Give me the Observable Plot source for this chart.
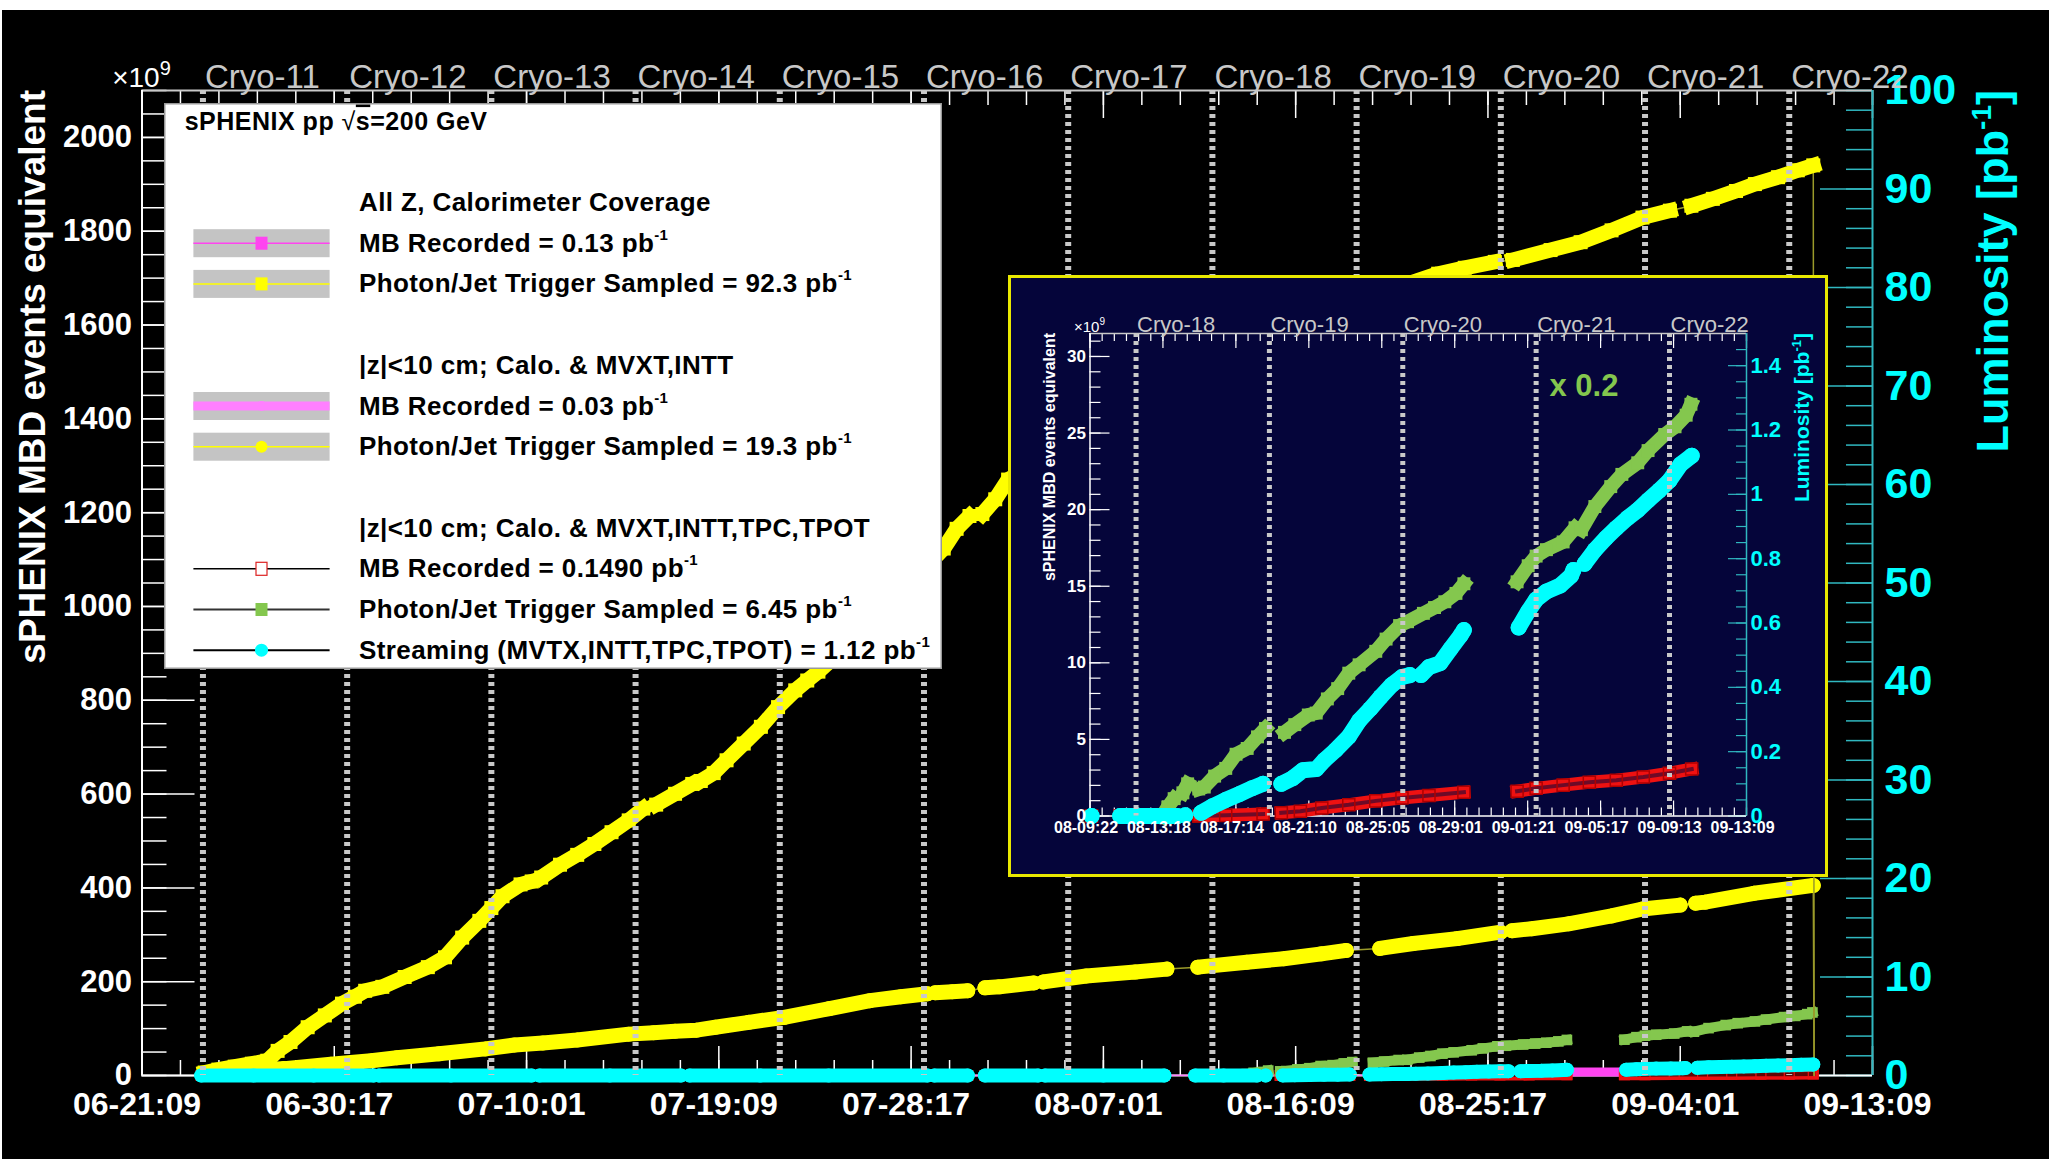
<!DOCTYPE html>
<html><head><meta charset="utf-8">
<script src="https://cdn.jsdelivr.net/npm/d3@7"></script>
<script src="https://cdn.jsdelivr.net/npm/@observablehq/plot@0.6"></script>
<style>
html,body{margin:0;padding:0;background:#fff;}
#root{position:absolute;left:2px;top:10px;width:2047px;height:1149px;background:#000;overflow:hidden;}
#root svg{position:absolute;overflow:visible;}
</style></head><body><div id="root"></div>
<script>
// ===================== DATA =====================
const RUN_START = "2024-06-21T09:00Z";
const RUN_END = "2024-09-13T09:00Z";
const INSET_START = "2024-08-09T22:00Z";
const EVENTS_PER_PB = 21;          // 2100 x10^9 MBD events  <->  100 pb^-1
const INSET_GREEN_SCALE = 0.2;

const mainTickDates = ["2024-06-21T09:00Z","2024-06-30T17:00Z","2024-07-10T01:00Z","2024-07-19T09:00Z","2024-07-28T17:00Z","2024-08-07T01:00Z","2024-08-16T09:00Z","2024-08-25T17:00Z","2024-09-04T01:00Z","2024-09-13T09:00Z"];
const mainTickLabels = ["06-21:09","06-30:17","07-10:01","07-19:09","07-28:17","08-07:01","08-16:09","08-25:17","09-04:01","09-13:09"];
const insetTickDates = ["2024-08-09T22:00Z","2024-08-13T17:53Z","2024-08-17T13:47Z","2024-08-21T09:40Z","2024-08-25T05:33Z","2024-08-29T01:27Z","2024-09-01T21:20Z","2024-09-05T17:13Z","2024-09-09T13:07Z","2024-09-13T09:00Z"];
const insetTickLabels = ["08-09:22","08-13:18","08-17:14","08-21:10","08-25:05","08-29:01","09-01:21","09-05:17","09-09:13","09-13:09"];
const cryoNames = ["Cryo-11","Cryo-12","Cryo-13","Cryo-14","Cryo-15","Cryo-16","Cryo-17","Cryo-18","Cryo-19","Cryo-20","Cryo-21","Cryo-22"];
const cryoDates = ["2024-06-24T08:00Z","2024-07-01T08:00Z","2024-07-08T08:00Z","2024-07-15T08:00Z","2024-07-22T08:00Z","2024-07-29T08:00Z","2024-08-05T08:00Z","2024-08-12T08:00Z","2024-08-19T08:00Z","2024-08-26T08:00Z","2024-09-02T08:00Z","2024-09-09T08:00Z"];
const leftTickValues = [0,200,400,600,800,1000,1200,1400,1600,1800,2000];
const rightTickValues = [0,10,20,30,40,50,60,70,80,90,100];
const insetLeftTickValues = [0,5,10,15,20,25,30];
const insetRightTickValues = [0,0.2,0.4,0.6,0.8,1,1.2,1.4];
const insetRightTickLabels = ["0","0.2","0.4","0.6","0.8","1","1.2","1.4"];

// Series: runs (segments) of [hours since RUN_START, integrated luminosity in pb^-1]
const photonJetAllZ = [
 [[73,0.3],[89,0.6],[108,0.9],[128,1.2],[146,1.5],[158,2.5],[173,3.4],[193,4.9],[213,6.1],[233,7.3],[248,8.0],[260,8.6],[280,9.0],[306,10.0],[333,11.0],[353,12.0],[373,14.0],[393,15.7],[407,17.0],[420,18.2],[441,19.4],[454,19.7]],
 [[465,20.1],[487,21.4],[507,22.4],[527,23.5],[547,24.7],[567,25.9],[584,27.1]],
 [[599,27.5],[621,28.6],[641,29.6]],
 [[651,29.9],[666,30.7],[681,32.0],[701,33.7],[721,35.4],[741,37.4],[761,39.1],[775,40.1],[788,41.0],[845,45.5],[895,50.0],[934,53.5],[949,55.5],[964,56.8]],
 [[979,57.0],[994,58.5],[1009,60.5],[1093,64.5],[1193,69.0],[1292,73.5],[1392,77.5],[1472,80.3],[1510,81.4],[1541,82.0],[1576,82.6]],
 [[1597,82.8],[1641,83.8],[1676,84.6],[1712,85.8],[1748,87.1],[1780,87.8]],
 [[1805,88.3],[1830,89.0],[1857,89.8],[1879,90.5],[1906,91.2],[1929,91.9],[1947,92.4]]
];
const photonJetZ10 = [
 [[76,0.2],[118,0.4],[166,0.7],[220,1.15],[267,1.5],[297,1.8],[346,2.2],[400,2.7],[434,3.1],[467,3.3],[507,3.6],[567,4.2],[596,4.35],[621,4.5],[646,4.6],[668,4.9],[707,5.4],[748,5.9],[801,6.8],[848,7.6],[884,8.0],[915,8.3]],
 [[924,8.4],[944,8.5],[962,8.6]],
 [[982,8.9],[999,9.0],[1039,9.4]],
 [[1050,9.5],[1100,10.1],[1157,10.5],[1194,10.8]],
 [[1230,11.0],[1287,11.5],[1330,11.85],[1374,12.35],[1403,12.7]],
 [[1442,12.9],[1481,13.4],[1532,13.9],[1583,14.55]],
 [[1596,14.7],[1619,14.9],[1662,15.4],[1712,16.2],[1748,16.9],[1792,17.3]],
 [[1810,17.5],[1821,17.6],[1878,18.5],[1947,19.3]]
];
const graphClosingHour = 1948;   // both Photon/Jet graphs drop back to 0 after the last point
const photonJetTPC = [
 [[1280,0.0],[1287,0.14],[1295,0.27]],
 [[1306,0.36],[1312,0.5]],
 [[1326,0.42],[1333,0.45],[1346,0.62],[1360,0.74],[1373,0.96],[1387,1.05],[1400,1.23],[1410,1.36]],
 [[1434,1.30],[1447,1.42],[1464,1.57],[1474,1.60],[1488,1.82],[1501,1.98],[1515,2.22],[1528,2.35],[1549,2.56],[1562,2.75],[1579,2.96],[1589,3.02],[1609,3.15],[1623,3.24],[1636,3.33],[1650,3.46],[1660,3.61]],
 [[1727,3.64],[1741,3.89],[1751,4.04],[1764,4.14],[1785,4.26],[1800,4.48]],
 [[1808,4.45],[1825,4.81],[1845,5.12],[1859,5.31],[1879,5.49],[1892,5.68],[1913,5.93],[1926,6.05],[1940,6.23],[1946,6.40]]
];
const streamingTPC = [
 [[69,0],[130,0],[200,0],[270,0]],
 [[276,0],[360,0],[454,0]],
 [[463,0],[545,0],[628,0]],
 [[638,0],[720,0],[800,0],[915,0]],
 [[923,0],[962,0]],
 [[982,0],[1044,0]],
 [[1052,0],[1120,0],[1191,0]],
 [[1227,0],[1260,0],[1299,0]],
 [[1309,0.002]],
 [[1329,0.01],[1343,0.03],[1360,0.05],[1377,0.068],[1393,0.086],[1407,0.10]],
 [[1430,0.10],[1444,0.117],[1457,0.142],[1474,0.146],[1484,0.173],[1498,0.204],[1515,0.247],[1528,0.296],[1542,0.333],[1555,0.37],[1569,0.407],[1582,0.432],[1592,0.438]],
 [[1606,0.438],[1616,0.463],[1630,0.475],[1643,0.519],[1656,0.562],[1660,0.578]],
 [[1729,0.586],[1741,0.636],[1751,0.673],[1764,0.698],[1781,0.716],[1795,0.747],[1798,0.765]],
 [[1812,0.784],[1825,0.827],[1839,0.864],[1852,0.895],[1866,0.926],[1879,0.951],[1892,0.981],[1906,1.012],[1919,1.043],[1933,1.093],[1947,1.12]]
];
const mbRecordedTPC = [
 [[69,0],[270,0]],[[276,0],[454,0]],[[463,0],[628,0]],[[638,0],[915,0]],[[923,0],[962,0]],[[982,0],[1044,0]],[[1052,0],[1191,0]],[[1227,0],[1299,0]],
 [[1326,0],[1360,0.002],[1407,0.006]],
 [[1430,0.01],[1454,0.015],[1481,0.025],[1515,0.035],[1549,0.047],[1582,0.056],[1616,0.064],[1660,0.074]],
 [[1727,0.077],[1751,0.086],[1785,0.096],[1818,0.105],[1852,0.111],[1886,0.121],[1919,0.133],[1947,0.146]]
];
const mbRecordedAllZ = [
 [[1671,0.35],[1694,0.35],[1717,0.35]]
];
const mbRecordedZ10 = [
 [[73,0],[500,0.005],[1000,0.01],[1500,0.02],[1947,0.03]]
];

const legendHeader = ["sPHENIX pp ", "√", "s", "=200 GeV"];
const legendGroupTitles = ["All Z, Calorimeter Coverage", "|z|<10 cm; Calo. & MVXT,INTT", "|z|<10 cm; Calo. & MVXT,INTT,TPC,TPOT"];
const legendEntryLabels = ["MB Recorded = 0.13 pb", "Photon/Jet Trigger Sampled = 92.3 pb", "MB Recorded = 0.03 pb", "Photon/Jet Trigger Sampled = 19.3 pb", "MB Recorded = 0.1490 pb", "Photon/Jet Trigger Sampled = 6.45 pb", "Streaming (MVTX,INTT,TPC,TPOT) = 1.12 pb"];

// ===================== STYLE / LAYOUT =====================
const FONT = '"Liberation Sans", Arial, Helvetica, sans-serif';
const C = {yellow:"#ffff00", olive:"#9a9a2a", green:"#84c74e", cyan:"#00ffff", red:"#ee1111", darkred:"#b00000",
  magenta:"#ff44f0", violet:"#ff80ff", grey:"#c8c8c8", axcyan:"#30b8c0", navy:"#05053a"};
const HOUR = 3600e3;
const t0 = new Date(RUN_START), t1 = new Date(RUN_END), ti = new Date(INSET_START);
const toRows = segs => segs.flatMap((seg, i) => seg.map(([h, pb]) => ({t: new Date(+t0 + h*HOUR), pb, ev: pb*EVENTS_PER_PB, seg: i})));
const S = {
  pjAllZ: toRows(photonJetAllZ), pjZ10: toRows(photonJetZ10), pjTPC: toRows(photonJetTPC),
  strm: toRows(streamingTPC), mbTPC: toRows(mbRecordedTPC), mbAllZ: toRows(mbRecordedAllZ), mbZ10: toRows(mbRecordedZ10)
};
const closing = {t: new Date(+t0 + graphClosingHour*HOUR), ev: 0};
const mainTicks = mainTickDates.map((d, i) => ({t: new Date(d), label: mainTickLabels[i]}));
const insetTicks = insetTickDates.map((d, i) => ({t: new Date(d), label: insetTickLabels[i]}));
const cryo = cryoDates.map((d, i) => ({t: new Date(d), name: cryoNames[i]}));

function series(rows, o, ykey = "ev") {
  const m = [];
  if (o.connect) m.push(Plot.line(o.connectRows || rows, {x: "t", y: ykey, stroke: o.connect, strokeWidth: 1.5}));
  if (o.band) m.push(Plot.line(rows, {x: "t", y: ykey, z: "seg", stroke: o.band, strokeWidth: o.bw, strokeLinecap: o.cap, strokeLinejoin: "round"}));
  if (o.inner) m.push(Plot.line(rows, {x: "t", y: ykey, z: "seg", stroke: o.inner, strokeOpacity: o.io || 1, strokeWidth: o.iw, strokeLinecap: o.cap, strokeLinejoin: "round"}));
  if (o.symbol) m.push(Plot.dot(rows, {x: "t", y: ykey, symbol: o.symbol, r: o.r, fill: o.fill || "none", stroke: o.stroke || "none", strokeWidth: o.sw || 1}));
  return m;
}

const root = document.getElementById("root");

// ===================== MAIN PLOT =====================
const W = 2047, H = 1149, mL = 139.5, mR = 177, mT = 80, mB = 84;
const pW = W - mL - mR, pH = H - mT - mB;
const xMinor = d3.range(0, 46).map(i => new Date(+t0 + i*44.8*HOUR));

const main = Plot.plot({
  width: W, height: H, marginLeft: mL, marginRight: mR, marginTop: mT, marginBottom: mB,
  style: {background: "transparent", fontFamily: FONT, overflow: "visible"},
  x: {type: "utc", domain: [t0, t1], axis: null},
  y: {type: "linear", domain: [0, 2100], axis: null},
  marks: [
    // frame / axes (drawn first, graphs go on top as in ROOT)
    Plot.ruleX(xMinor, {stroke: "#fff", strokeWidth: 1.5, insetTop: pH - 15}),
    Plot.ruleX(mainTicks, {x: "t", stroke: "#fff", strokeWidth: 1.5, insetTop: pH - 29}),
    Plot.ruleX(xMinor, {stroke: "#fff", strokeWidth: 1.5, insetBottom: pH - 15}),
    Plot.ruleX(mainTicks, {x: "t", stroke: "#fff", strokeWidth: 1.5, insetBottom: pH - 28}),
    Plot.ruleY(d3.range(0, 2101, 50), {stroke: "#fff", strokeWidth: 1.5, insetRight: pW - 25}),
    Plot.ruleY(leftTickValues, {stroke: "#fff", strokeWidth: 1.5, insetRight: pW - 53}),
    Plot.ruleY(d3.range(0, 101, 2), {y: d => d*EVENTS_PER_PB, stroke: C.axcyan, strokeWidth: 1.5, insetLeft: pW - 26}),
    Plot.ruleY(rightTickValues, {y: d => d*EVENTS_PER_PB, stroke: C.axcyan, strokeWidth: 1.5, insetLeft: pW - 52}),
    Plot.ruleY([2100], {stroke: C.grey, strokeWidth: 2}),
    Plot.ruleX([t0], {stroke: "#fff", strokeWidth: 2}),
    Plot.ruleY([0], {stroke: "#fff", strokeWidth: 2}),
    Plot.ruleX([t1], {stroke: C.axcyan, strokeWidth: 2}),
    // graphs
    ...series(S.mbZ10, {connect: C.violet}),
    ...series(S.mbAllZ, {band: C.magenta, bw: 9, cap: "square"}),
    ...series(S.mbTPC, {band: C.red, bw: 11, inner: "#000", iw: 4, io: 0.6, cap: "square", symbol: "square", r: 5.6, stroke: C.red, sw: 1.2}),
    ...series(S.pjTPC, {band: C.green, bw: 10, cap: "square", symbol: "square", r: 6, fill: C.green}),
    ...series(S.pjZ10, {connect: C.olive, connectRows: [...S.pjZ10, closing], band: C.yellow, bw: 15, cap: "round", symbol: "circle", r: 7.5, fill: C.yellow}),
    ...series(S.pjAllZ, {connect: C.olive, connectRows: [...S.pjAllZ, closing], band: C.yellow, bw: 15, cap: "square", symbol: "square", r: 7.9, fill: C.yellow}),
    ...series(S.strm, {band: C.cyan, bw: 14, cap: "round", symbol: "circle", r: 7, fill: C.cyan}),
    Plot.ruleX(cryo, {x: "t", stroke: C.grey, strokeWidth: 6, strokeDasharray: "4,4"}),
    // labels
    Plot.text(mainTicks, {x: "t", text: "label", frameAnchor: "bottom", lineAnchor: "top", dy: 17, dx: -5, fill: "#fff", fontSize: 32, fontWeight: "bold"}),
    Plot.text(leftTickValues, {y: d => d, text: d => String(d), frameAnchor: "left", textAnchor: "end", dx: -10, fill: "#fff", fontSize: 31, fontWeight: "bold"}),
    Plot.text(rightTickValues, {y: d => d*EVENTS_PER_PB, text: d => String(d), frameAnchor: "right", textAnchor: "start", dx: 12, fill: C.cyan, fontSize: 43, fontWeight: "bold"}),
    Plot.text(cryo, {x: "t", text: "name", frameAnchor: "top", textAnchor: "start", lineAnchor: "bottom", dx: 2, dy: -3, fill: C.grey, fontSize: 33})
  ]
});
main.id = "main";
main.style.left = "0px"; main.style.top = "0px";
root.appendChild(main);
const ms = d3.select(main);
{
  const t = ms.append("text").attr("x", 139.5).attr("y", 77).attr("fill", "#fff").attr("font-family", FONT).attr("font-size", 28);
  t.append("tspan").text("×10");
  t.append("tspan").attr("font-size", 20).attr("dy", -12).text("9");
  ms.append("text").attr("transform", "translate(43,80) rotate(-90)").attr("text-anchor", "end")
    .attr("font-family", FONT).attr("font-size", 37).attr("font-weight", "bold").attr("fill", "#fff")
    .text("sPHENIX MBD events equivalent");
  const r = ms.append("text").attr("transform", "translate(2006,80) rotate(-90)").attr("text-anchor", "end")
    .attr("font-family", FONT).attr("font-size", 45).attr("font-weight", "bold").attr("fill", C.cyan);
  r.append("tspan").text("Luminosity [pb");
  r.append("tspan").attr("font-size", 28).attr("dy", -17).text("-1");
  r.append("tspan").attr("dy", 17).text("]");
}

// ===================== LEGEND =====================
{
  const LW = 778, LH = 566;
  const lg = d3.select(root).append("svg").attr("width", LW).attr("height", LH)
    .style("left", "162px").style("top", "93px").attr("font-family", FONT);
  lg.append("rect").attr("x", 0.75).attr("y", 0.75).attr("width", LW - 1.5).attr("height", LH - 1.5)
    .attr("fill", "#fff").attr("stroke", "#999").attr("stroke-width", 1.5);
  const base = k => 26.6 + 40.7*k;
  const hd = lg.append("text").attr("x", 20.7).attr("y", base(0)).attr("font-size", 25).attr("font-weight", "bold").attr("fill", "#000").style("letter-spacing", "0.5px");
  hd.append("tspan").text(legendHeader[0]);
  hd.append("tspan").attr("font-weight", "normal").text(legendHeader[1]);
  hd.append("tspan").style("text-decoration", "overline").text(legendHeader[2]);
  hd.append("tspan").text(legendHeader[3]);
  [2, 6, 10].forEach((k, i) => lg.append("text").attr("x", 195).attr("y", base(k)).attr("font-size", 26).attr("font-weight", "bold").style("letter-spacing", "0.4px").text(legendGroupTitles[i]));
  const rows = [3, 4, 7, 8, 11, 12, 13];
  const sym = [
    {box: true, line: C.magenta, lw: 1.5, m: "sq", mc: C.magenta},
    {box: true, line: C.yellow, lw: 1.5, m: "sq", mc: C.yellow},
    {box: true, line: C.violet, lw: 9, m: "ci", mc: C.violet, mr: 5},
    {box: true, line: C.yellow, lw: 1.5, m: "ci", mc: C.yellow, mr: 6},
    {box: false, line: "#000", lw: 1.5, m: "open", mc: "#dd2222"},
    {box: false, line: "#333", lw: 2, m: "sq", mc: C.green},
    {box: false, line: "#000", lw: 2, m: "ci", mc: C.cyan, mr: 6.5}
  ];
  rows.forEach((k, i) => {
    const cy = base(k) - 8.5, s = sym[i];
    if (s.box) lg.append("rect").attr("x", 29.4).attr("y", cy - 14).attr("width", 136.2).attr("height", 28).attr("fill", "#c4c4c4");
    lg.append("line").attr("x1", 29.4).attr("x2", 165.6).attr("y1", cy).attr("y2", cy).attr("stroke", s.line).attr("stroke-width", s.lw);
    if (s.m === "sq") lg.append("rect").attr("x", 97.5 - 6).attr("y", cy - 6.5).attr("width", 12).attr("height", 13).attr("fill", s.mc);
    if (s.m === "open") lg.append("rect").attr("x", 97.5 - 5.5).attr("y", cy - 6.5).attr("width", 11).attr("height", 13).attr("fill", "#fff").attr("stroke", s.mc).attr("stroke-width", 1.2);
    if (s.m === "ci") lg.append("circle").attr("cx", 97.5).attr("cy", cy).attr("r", s.mr).attr("fill", s.mc);
    const t = lg.append("text").attr("x", 195).attr("y", base(k)).attr("font-size", 26).attr("font-weight", "bold").style("letter-spacing", "0.4px");
    t.append("tspan").text(legendEntryLabels[i]);
    t.append("tspan").attr("font-size", 15).attr("dy", -12).text("-1");
  });
}

// ===================== INSET =====================
{
  const IW = 820, IH = 602, iL = 81.5, iR = 82, iT = 58, iB = 61.5;
  const ipW = IW - iL - iR, ipH = IH - iT - iB;
  const inR = d => d.t >= ti;
  const rows = {
    green: S.pjTPC.filter(inR).map(d => ({...d, ev: d.ev*INSET_GREEN_SCALE})),
    cyan: S.strm.filter(inR),
    red: S.mbTPC.filter(inR)
  };
  const span = (+t1 - +ti);
  const ixMinor = d3.range(0, 55).map(i => new Date(+ti + i*span/54));
  const inset = Plot.plot({
    width: IW, height: IH, marginLeft: iL, marginRight: iR, marginTop: iT, marginBottom: iB,
    style: {background: C.navy, fontFamily: FONT, overflow: "visible"},
    x: {type: "utc", domain: [ti, t1], axis: null},
    y: {type: "linear", domain: [0, 31.5], axis: null},
    marks: [
      Plot.ruleX(ixMinor, {stroke: "#fff", strokeWidth: 1.2, insetTop: ipH - 8}),
      Plot.ruleX(insetTicks, {x: "t", stroke: "#fff", strokeWidth: 1.2, insetTop: ipH - 15}),
      Plot.ruleX(ixMinor, {stroke: "#fff", strokeWidth: 1.2, insetBottom: ipH - 8}),
      Plot.ruleX(insetTicks, {x: "t", stroke: "#fff", strokeWidth: 1.2, insetBottom: ipH - 15}),
      Plot.ruleY(d3.range(0, 32, 1), {stroke: "#fff", strokeWidth: 1.2, insetRight: ipW - 11}),
      Plot.ruleY(insetLeftTickValues, {stroke: "#fff", strokeWidth: 1.2, insetRight: ipW - 20}),
      Plot.ruleY(d3.range(0, 31), {y: d => d*0.05*EVENTS_PER_PB, stroke: C.axcyan, strokeWidth: 1.2, insetLeft: ipW - 10}),
      Plot.ruleY(insetRightTickValues, {y: d => d*EVENTS_PER_PB, stroke: C.axcyan, strokeWidth: 1.2, insetLeft: ipW - 18}),
      Plot.ruleY([31.5], {stroke: C.grey, strokeWidth: 1.5}),
      Plot.ruleX([ti], {stroke: "#fff", strokeWidth: 1.5}),
      Plot.ruleY([0], {stroke: "#fff", strokeWidth: 1.5}),
      Plot.ruleX([t1], {stroke: C.axcyan, strokeWidth: 1.5}),
      ...series(rows.red, {band: C.red, bw: 13, inner: C.navy, iw: 4, io: 0.55, cap: "square", symbol: "square", r: 6.8, stroke: C.darkred, sw: 1.5}),
      ...series(rows.green, {band: C.green, bw: 14, cap: "square", symbol: "square", r: 7.3, fill: C.green}),
      ...series(rows.cyan, {band: C.cyan, bw: 16, cap: "round", symbol: "circle", r: 8, fill: C.cyan}),
      Plot.ruleX(cryo.filter(inR), {x: "t", stroke: C.grey, strokeWidth: 5, strokeDasharray: "4,4"}),
      Plot.text(insetTicks, {x: "t", text: "label", frameAnchor: "bottom", lineAnchor: "top", dy: 6, dx: -4, fill: "#fff", fontSize: 16, fontWeight: "bold"}),
      Plot.text(insetLeftTickValues, {y: d => d, text: d => String(d), frameAnchor: "left", textAnchor: "end", dx: -4, fill: "#fff", fontSize: 17, fontWeight: "bold"}),
      Plot.text(insetRightTickValues, {y: d => d*EVENTS_PER_PB, text: (d, i) => insetRightTickLabels[i], frameAnchor: "right", textAnchor: "start", dx: 4, fill: C.cyan, fontSize: 22, fontWeight: "bold"}),
      Plot.text(cryo.filter(inR), {x: "t", text: "name", frameAnchor: "top", textAnchor: "start", lineAnchor: "bottom", dx: 1, dy: -2, fill: C.grey, fontSize: 22})
    ]
  });
  inset.style.left = "1006px"; inset.style.top = "265px";
  root.appendChild(inset);
  const is = d3.select(inset);
  is.append("rect").attr("x", 1.5).attr("y", 1.5).attr("width", IW - 3).attr("height", IH - 3).attr("fill", "none").attr("stroke", "#e8e800").attr("stroke-width", 3);
  const t = is.append("text").attr("x", iL).attr("y", 57).attr("fill", "#fff").attr("font-family", FONT).attr("font-size", 15);
  t.append("tspan").text("×10");
  t.append("tspan").attr("font-size", 10).attr("dy", -7).text("9");
  is.append("text").attr("transform", "translate(47,58) rotate(-90)").attr("text-anchor", "end")
    .attr("font-family", FONT).attr("font-size", 16).attr("font-weight", "bold").attr("fill", "#fff")
    .text("sPHENIX MBD events equivalent");
  const r = is.append("text").attr("transform", "translate(801,58) rotate(-90)").attr("text-anchor", "end")
    .attr("font-family", FONT).attr("font-size", 21).attr("font-weight", "bold").attr("fill", C.cyan);
  r.append("tspan").text("Luminosity [pb");
  r.append("tspan").attr("font-size", 13).attr("dy", -8).text("-1");
  r.append("tspan").attr("dy", 8).text("]");
  is.append("text").attr("x", 576).attr("y", 121).attr("font-family", FONT).attr("font-size", 31).attr("font-weight", "bold")
    .attr("fill", C.green).text("x 0.2");
}
</script></body></html>
